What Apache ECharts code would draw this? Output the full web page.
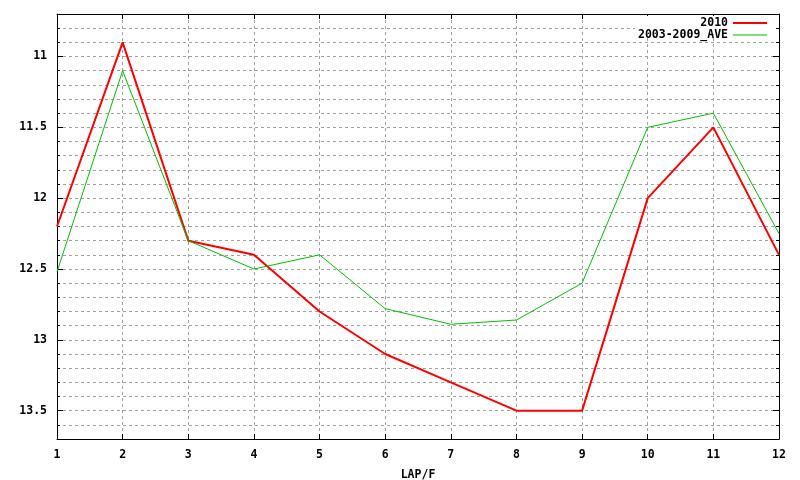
<!DOCTYPE html>
<html>
<head>
<meta charset="utf-8">
<script src="https://cdn.jsdelivr.net/npm/echarts@6/dist/echarts.min.js"></script>
<style>
html,body{margin:0;padding:0;background:#fff;}
#chart{width:800px;height:480px;}
</style>
</head>
<body>
<div id="chart"></div>
<script>
const laps = ['1','2','3','4','5','6','7','8','9','10','11','12'];
const series2010 = [12.2, 10.9, 12.3, 12.4, 12.8, 13.1, 13.3, 13.5, 13.5, 12.0, 11.5, 12.4];
const seriesAve = [12.52, 11.1, 12.3, 12.5, 12.4, 12.78, 12.89, 12.86, 12.6, 11.5, 11.4, 12.25];
const name2010 = '2010';
const nameAve = '2003-2009_AVE';
const xName = 'LAP/F';
const yMin = 10.7, yMax = 13.7, yStep = 0.1;
const yMajorTicks = [11, 11.5, 12, 12.5, 13, 13.5];

const FONT = 'DejaVu Sans Mono';
const txt = {fontFamily: FONT, fontWeight: 'bold', fontSize: 11.5, color: '#000'};
const gridLine = {show: true, lineStyle: {color: '#a0a0a0', type: [3, 3], width: 1}};
const blackLine = {show: true, lineStyle: {color: '#000', width: 1}};

function yAx(opts) {
  return Object.assign({type: 'value', inverse: true, min: yMin, max: yMax, interval: yStep,
    axisLine: blackLine, splitLine: {show: false}, axisLabel: {show: false}}, opts);
}

const chart = echarts.init(document.getElementById('chart'), null, {renderer: 'canvas'});
chart.setOption({
  animation: false,
  backgroundColor: '#fff',
  grid: {left: 57, right: 21, top: 14, bottom: 41, containLabel: false, outerBoundsMode: 'none'},
  graphic: [
    {type: 'rect', z: 1, silent: true, shape: {x: 635, y: 16, width: 139, height: 18},
     style: {fill: '#fff'}}
  ],
  legend: [
    {data: [name2010], right: 33, top: 17, align: 'right', icon: 'rect', itemWidth: 34, itemHeight: 2,
     textStyle: txt, padding: 0, selectedMode: false},
    {data: [nameAve], right: 33, top: 29, align: 'right', icon: 'rect', itemWidth: 34, itemHeight: 1,
     textStyle: txt, padding: 0, selectedMode: false}
  ],
  xAxis: [
    {type: 'category', data: laps, boundaryGap: false, position: 'bottom',
     name: xName, nameLocation: 'middle', nameGap: 30, nameTextStyle: txt,
     axisLine: blackLine,
     axisTick: {show: true, inside: true, length: 5, lineStyle: {color: '#000'}},
     axisLabel: Object.assign({margin: 10}, txt),
     splitLine: gridLine},
    {type: 'category', data: laps, boundaryGap: false, position: 'top',
     axisLine: blackLine,
     axisTick: {show: true, inside: true, length: 5, lineStyle: {color: '#000'}},
     axisLabel: {show: false}, splitLine: {show: false}}
  ],
  yAxis: [
    yAx({position: 'left',
     axisTick: {show: true, inside: true, length: 3, lineStyle: {color: '#000'}},
     axisLabel: Object.assign({margin: 10, formatter: function (v) {
       const r = Math.round(v * 10) / 10;
       return Math.abs(r * 2 - Math.round(r * 2)) < 1e-9 ? String(r) : '';
     }}, txt),
     splitLine: gridLine}),
    yAx({position: 'right',
     axisTick: {show: true, inside: true, length: 3, lineStyle: {color: '#000'}}}),
    yAx({position: 'left', offset: 0, axisLine: {show: false},
     axisTick: {show: true, inside: true, length: 6, customValues: yMajorTicks, lineStyle: {color: '#000'}}}),
    yAx({position: 'right', offset: 0, axisLine: {show: false},
     axisTick: {show: true, inside: true, length: 6, customValues: yMajorTicks, lineStyle: {color: '#000'}}})
  ],
  series: [
    {name: name2010, type: 'line', data: series2010, symbol: 'none', xAxisIndex: 0, yAxisIndex: 0,
     color: '#ff0000', lineStyle: {color: '#ff0000', width: 2}, itemStyle: {color: '#ff0000'}},
    {name: nameAve, type: 'line', data: seriesAve, symbol: 'none', xAxisIndex: 0, yAxisIndex: 0,
     color: '#00c000', lineStyle: {color: '#00c000', width: 1}, itemStyle: {color: '#00c000'}}
  ]
});
</script>
</body>
</html>
